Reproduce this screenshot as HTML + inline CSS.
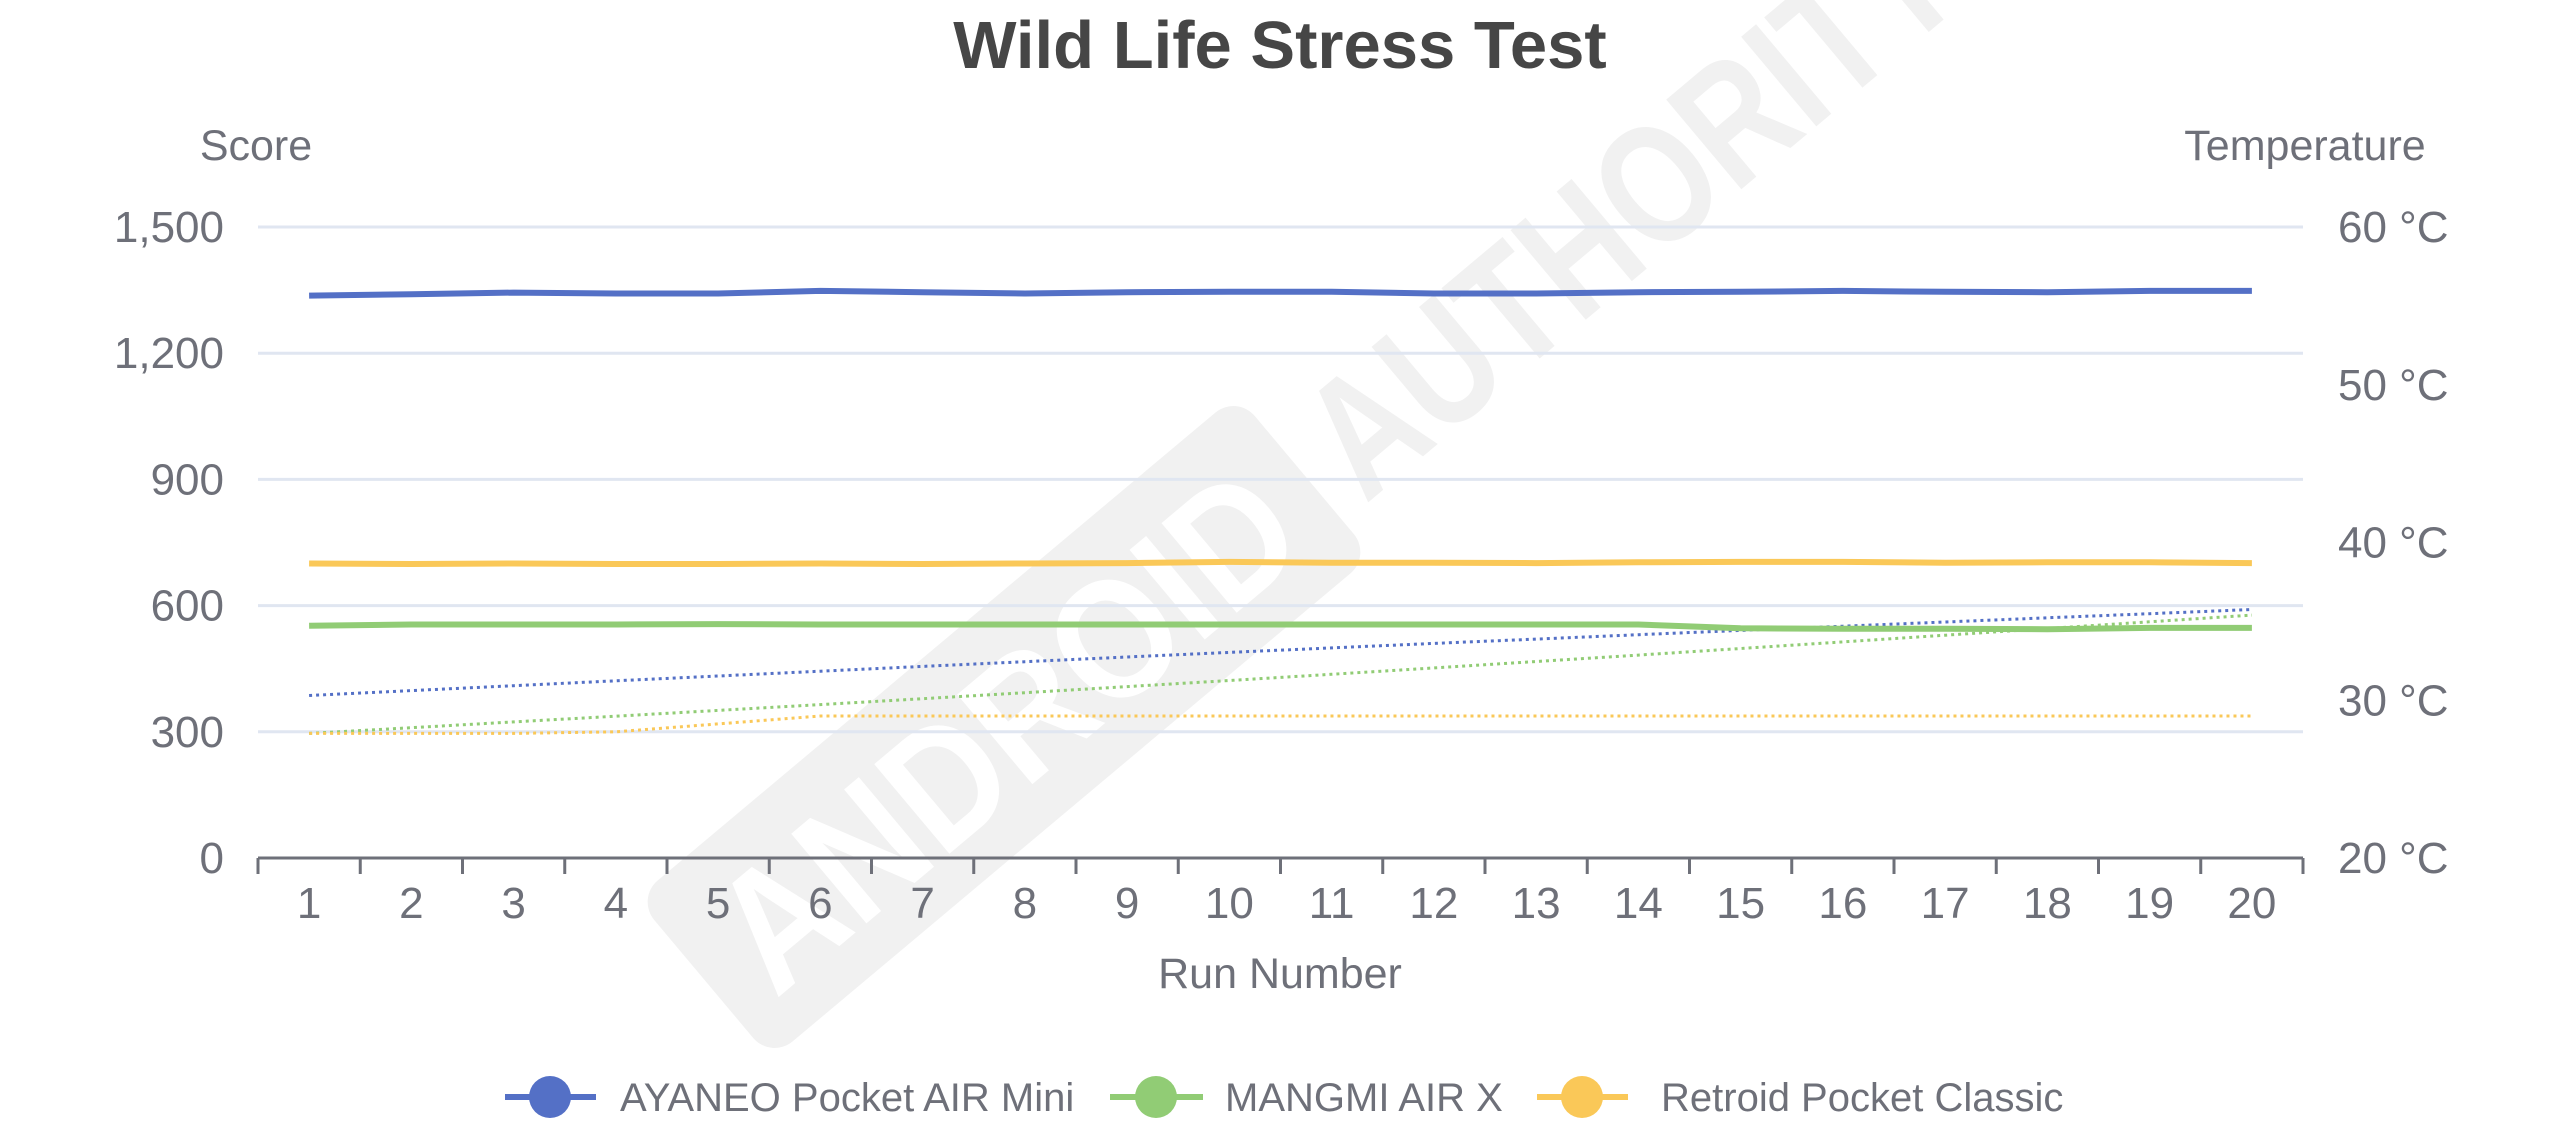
<!DOCTYPE html>
<html><head><meta charset="utf-8"><style>
html,body{margin:0;padding:0;background:#fff;overflow:hidden;}
svg{display:block;font-family:"Liberation Sans",sans-serif;}
</style></head><body>
<svg id="c" width="2560" height="1143" viewBox="0 0 2560 1143" xmlns="http://www.w3.org/2000/svg">
<g transform="translate(1004,727) rotate(-40)">
  <rect x="-392" y="-105" width="784" height="210" rx="28" fill="#f1f1f1"/>
  <text x="0" y="62" text-anchor="middle" font-size="170" font-weight="bold" fill="#fff" textLength="700" lengthAdjust="spacingAndGlyphs">ANDROID</text>
  <text x="420" y="62" font-size="170" font-weight="bold" fill="#f1f1f1" textLength="790" lengthAdjust="spacingAndGlyphs">AUTHORITY</text>
</g>
<text x="1280" y="68" text-anchor="middle" font-size="67" font-weight="bold" fill="#464646">Wild Life Stress Test</text>
<g font-size="43" fill="#6e7079">
<text x="256" y="160" text-anchor="middle">Score</text>
<text x="2305" y="160" text-anchor="middle">Temperature</text>
<text x="1280" y="988" text-anchor="middle">Run Number</text>
</g>
<g id="grid" stroke="#e0e6f1" stroke-width="3"></g>
<g id="ax"></g>
<g id="series"></g>
<g font-size="40" fill="#6e7079">
<line x1="505" y1="1097" x2="596" y2="1097" stroke="#5470c6" stroke-width="6"/><circle cx="550" cy="1097" r="21" fill="#5470c6"/>
<text x="620" y="1111">AYANEO Pocket AIR Mini</text>
<line x1="1110" y1="1097" x2="1203" y2="1097" stroke="#91cc75" stroke-width="6"/><circle cx="1156" cy="1097" r="21" fill="#91cc75"/>
<text x="1225" y="1111">MANGMI AIR X</text>
<line x1="1537" y1="1097" x2="1628" y2="1097" stroke="#fac858" stroke-width="6"/><circle cx="1582" cy="1097" r="21" fill="#fac858"/>
<text x="1661" y="1111">Retroid Pocket Classic</text>
</g>
</svg>
<script>
var NS="http://www.w3.org/2000/svg";
function el(p,t,a,txt){var e=document.createElementNS(NS,t);for(var k in a)e.setAttribute(k,a[k]);if(txt!=null)e.textContent=txt;p.appendChild(e);return e;}
var L=258,R=2303,T=227,B=858,H=B-T,cw=(R-L)/20;
var grid=document.getElementById('grid'),ax=document.getElementById('ax'),se=document.getElementById('series');
var sl=["0","300","600","900","1,200","1,500"];
for(var i=0;i<6;i++){var y=B-i*H/5;if(i>0)el(grid,'line',{x1:L,x2:R,y1:y,y2:y});
 el(ax,'text',{x:224,y:y+15,'text-anchor':'end','font-size':44,fill:'#6e7079'},sl[i]);}
for(var i=0;i<5;i++){var y=B-i*H/4;el(ax,'text',{x:2338,y:y+15,'font-size':44,fill:'#6e7079'},(20+i*10)+" °C");}
el(ax,'line',{x1:L,x2:R,y1:B,y2:B,stroke:'#6e7079','stroke-width':3});
for(var i=0;i<=20;i++){var x=L+i*cw;el(ax,'line',{x1:x,x2:x,y1:B,y2:B+16,stroke:'#6e7079','stroke-width':3});}
for(var i=0;i<20;i++){el(ax,'text',{x:L+cw*(i+0.5),y:918,'text-anchor':'middle','font-size':44,fill:'#6e7079'},String(i+1));}
function sy(v){return B-v/1500*H;} function ty(v){return B-(v-20)/40*H;}
function line(vals,f,col,dash){var p=vals.map(function(v,i){return (L+cw*(i+0.5)).toFixed(1)+","+f(v).toFixed(1);}).join(" ");
 var a={points:p,fill:'none',stroke:col,'stroke-width':dash?3:6,'stroke-linejoin':'round'};if(dash)a['stroke-dasharray']='3,4';el(se,'polyline',a);}
var blue=[1337,1340,1344,1342,1342,1348,1345,1342,1345,1346,1346,1342,1342,1345,1346,1348,1346,1345,1348,1348];
var green=[552,555,555,555,556,555,555,555,555,555,555,555,555,555,546,545,545,544,547,547];
var yel=[700,699,700,699,699,700,699,700,701,704,702,702,701,703,704,704,702,703,703,701];
var bt=[],gt=[],yt=[];
for(var i=0;i<20;i++){bt.push(30.3+i*(35.75-30.3)/19+ (i>0&&i<19?0.15*Math.sin(Math.PI*i/19):0));
 gt.push(27.9+i*(35.4-27.9)/19 - 0.2*Math.sin(Math.PI*i/19));
 yt.push(i<3?27.9:(i==3?28.0:(i==4?28.5:29.0)));}
line(bt,ty,'#5470c6',1);line(gt,ty,'#91cc75',1);line(yt,ty,'#fac858',1);
line(blue,sy,'#5470c6');line(green,sy,'#91cc75');line(yel,sy,'#fac858');
</script>
</body></html>
